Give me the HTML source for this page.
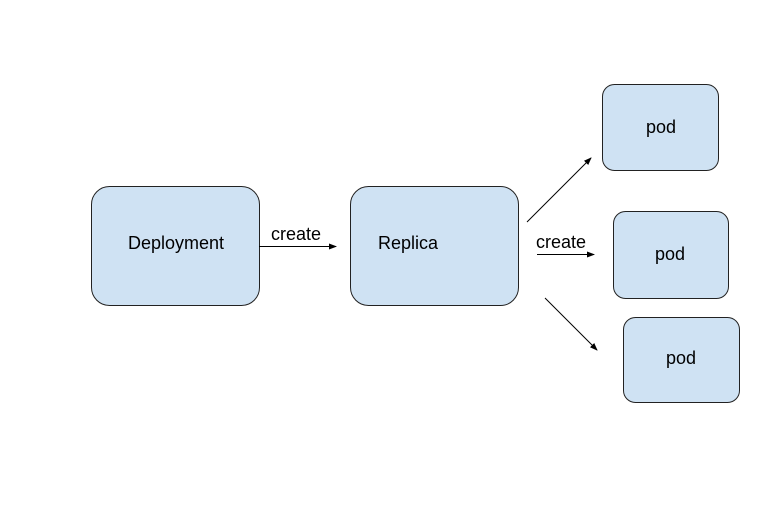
<!DOCTYPE html>
<html><head><meta charset="utf-8"><style>
html,body{margin:0;padding:0;background:#fff;}
svg{display:block;}
text{font-family:"Liberation Sans",Arial,sans-serif;fill:#000;}
</style></head><body>
<svg width="763" height="526" viewBox="0 0 763 526" xmlns="http://www.w3.org/2000/svg">
<defs><marker id="a" markerWidth="8" markerHeight="6" refX="7" refY="3" orient="auto" markerUnits="userSpaceOnUse"><path d="M0,0 L8,3 L0,6 Z" fill="#000"/></marker></defs>
<g fill="#cfe2f3" stroke="#222" stroke-width="1">
<rect x="91.5" y="186.5" width="168" height="119" rx="18"/>
<rect x="350.5" y="186.5" width="168" height="119" rx="18"/>
<rect x="602.5" y="84.5" width="116" height="86" rx="12"/>
<rect x="613.5" y="211.5" width="115" height="87" rx="12"/>
<rect x="623.5" y="317.5" width="116" height="85" rx="12"/>
</g>
<g stroke="#000" stroke-width="1" marker-end="url(#a)">
<line x1="259" y1="246.5" x2="336" y2="246.5"/>
<line x1="527" y1="222" x2="591" y2="158"/>
<line x1="537" y1="254.5" x2="594" y2="254.5"/>
<line x1="545" y1="298" x2="597" y2="350"/>
</g>
<g font-size="18">
<text x="128" y="249">Deployment</text>
<text x="378" y="249">Replica</text>
<text x="646" y="133">pod</text>
<text x="655" y="260">pod</text>
<text x="666" y="364">pod</text>
<text x="271" y="240">create</text>
<text x="536" y="248">create</text>
</g>
</svg>
</body></html>
